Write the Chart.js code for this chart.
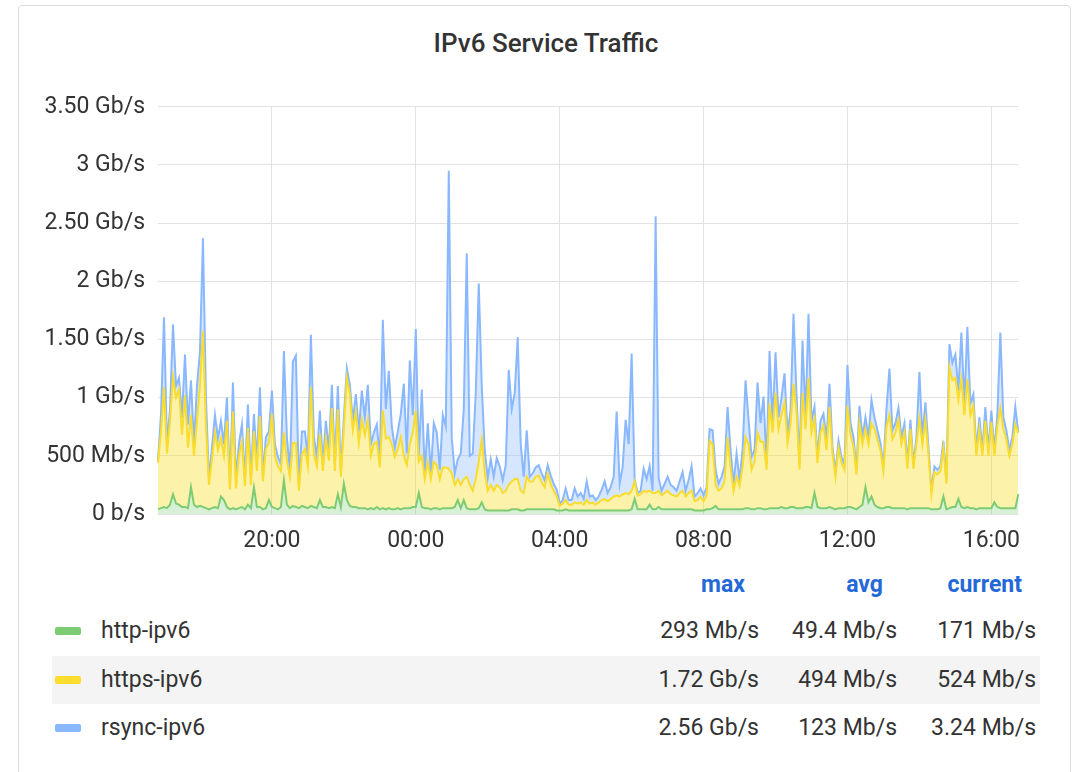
<!DOCTYPE html>
<html lang="en">
<head>
  <meta charset="UTF-8">
  <title>IPv6 Service Traffic</title>
  <script src="https://cdn.jsdelivr.net/npm/chart.js"></script>
  <style>
    body { margin: 0; background: #fff; font-family: Roboto, 'Noto Sans', sans-serif; color: #333; }
    .panel { position: absolute; left: 18px; top: 5px; width: 1053px; height: 800px; border: 1px solid #dcdcdc; border-radius: 4px; box-sizing: border-box; }
    .title { position: absolute; left: 0; width: 1092px; top: 28px; text-align: center; font-size: 26px; font-weight: 500; color: #333; }
    .chart-box { position: absolute; left: 18px; top: 80px; width: 1015px; height: 480px; }
    .cell { position: absolute; width: 200px; height: 48px; line-height: 48px; font-size: 23px; text-align: right; white-space: nowrap; }
    .head { color: #2468d8; font-weight: 700; }
    .row-bg { position: absolute; left: 52px; width: 988px; height: 48px; background: #f4f4f4; }
    .swatch { position: absolute; left: 55px; width: 26px; height: 8px; border-radius: 2px; }
    .name { position: absolute; left: 101px; height: 48px; line-height: 48px; font-size: 23px; }
  </style>
</head>
<body>
  <div class="panel"></div>
  <div class="title">IPv6 Service Traffic</div>
  <div class="chart-box"><canvas id="trafficChart"></canvas></div>
  <div id="legend"></div>

  <script>
    // values in Mb/s, one point every 5 minutes starting 16:50
    const startHour = 16, startMinute = 50, stepMinutes = 5;

    const httpValues = [
      40,50,60,50,80,170,90,80,60,60,50,230,80,60,70,60,50,40,50,60,50,150,120,60,40,50,40,50,60,40,80,50,230,60,60,40,50,120,60,50,40,
      60,290,80,50,70,60,50,70,60,50,70,60,50,120,60,60,50,60,50,170,60,260,120,70,60,60,50,50,50,40,50,40,60,40,50,40,50,40,40,50,40,
      50,50,50,60,60,180,60,50,50,40,50,50,40,50,50,50,50,60,120,50,120,50,40,40,40,50,100,40,30,30,30,30,30,30,30,30,40,40,40,30,30,
      40,40,40,40,40,40,40,40,40,40,30,30,30,40,30,30,30,30,30,30,30,30,30,30,30,30,30,30,30,30,30,30,30,30,30,40,130,40,40,40,40,
      80,40,40,60,40,40,40,40,40,40,40,40,40,40,40,30,30,30,30,40,40,50,70,40,40,40,40,40,40,40,40,40,50,50,40,40,50,50,40,40,50,
      50,50,50,60,50,50,60,60,50,50,50,60,60,50,180,60,50,50,50,60,50,40,50,50,50,60,60,50,40,60,80,230,100,150,80,60,50,50,60,60,50,
      50,50,50,50,40,50,50,50,50,50,50,50,40,40,40,50,150,40,50,60,60,130,60,50,60,50,50,40,50,50,50,50,50,100,60,50,50,50,50,50,50,171
    ];

    const httpsValues = [
      400,660,1030,470,720,1010,910,990,620,960,520,620,420,740,1030,1510,700,210,420,640,500,500,380,740,170,830,180,450,560,200,660,200,480,310,780,240,510,490,800,450,370,
      310,410,380,270,540,550,150,440,500,360,1020,450,360,570,310,590,410,850,320,730,260,470,1050,960,660,820,560,760,630,770,450,560,560,360,840,610,610,560,450,510,620,
      450,370,550,640,830,270,440,250,400,260,400,370,260,350,350,340,300,190,180,200,180,270,210,160,260,400,540,310,170,220,170,220,200,150,170,220,240,260,260,170,150,
      280,240,240,280,290,230,190,310,220,160,120,40,60,80,50,50,70,60,70,50,90,60,70,50,70,90,100,80,100,120,130,120,140,150,140,160,150,120,130,160,150,
      120,140,140,140,120,140,160,130,120,110,140,160,110,140,160,80,90,120,80,120,590,550,180,160,180,240,620,360,160,280,200,360,610,550,340,410,650,570,580,340,900,
      650,990,680,790,910,560,710,1060,830,330,990,670,1110,650,640,380,650,710,500,860,470,280,520,390,330,870,620,530,300,720,520,500,500,630,650,580,500,320,690,790,590,
      650,760,550,650,350,680,340,550,770,550,760,470,130,320,300,320,420,220,1210,1090,1110,850,1100,800,1100,800,880,460,680,450,750,450,740,400,700,860,680,590,450,550,720,524
    ];

    const rsyncValues = [
      20,150,600,80,100,450,100,100,150,350,200,300,100,300,300,800,250,50,100,150,100,150,100,200,40,250,80,100,150,60,200,60,150,80,250,60,100,100,200,100,80,
      60,700,200,50,700,750,40,200,150,80,450,150,80,200,60,150,80,200,60,200,50,100,80,80,80,150,100,250,150,300,100,100,150,60,780,250,570,150,80,150,200,
      620,100,720,150,700,50,570,50,330,50,330,280,80,450,350,2560,300,100,170,270,600,1920,250,320,740,1530,460,200,110,220,120,230,180,110,220,990,620,740,1220,400,140,
      400,40,70,80,90,80,60,70,70,60,60,20,30,100,40,40,120,60,80,50,160,60,60,40,50,90,150,70,100,170,720,110,230,630,430,1180,20,20,30,190,110,
      210,20,2380,110,40,80,120,80,70,50,100,160,50,110,210,40,60,70,50,70,100,120,130,60,100,130,260,150,60,200,50,150,490,210,110,100,430,160,390,50,450,
      80,350,100,150,250,80,120,600,150,50,450,100,550,100,100,50,100,100,80,200,60,40,60,50,50,350,100,80,40,150,60,100,60,200,100,80,60,40,150,400,80,
      80,100,60,80,40,80,40,60,400,60,150,60,30,50,40,40,60,30,200,150,200,80,400,100,450,100,100,50,100,50,120,50,100,50,100,650,100,80,50,60,150,3
    ];

    const xTickLabels = ['20:00', '00:00', '04:00', '08:00', '12:00', '16:00'];
    const yTickValues = [0, 500, 1000, 1500, 2000, 2500, 3000, 3500];
    const yTickLabels = ['0 b/s', '500 Mb/s', '1 Gb/s', '1.50 Gb/s', '2 Gb/s', '2.50 Gb/s', '3 Gb/s', '3.50 Gb/s'];

    const seriesNames = ['http-ipv6', 'https-ipv6', 'rsync-ipv6'];
    const maxLabels = ['293 Mb/s', '1.72 Gb/s', '2.56 Gb/s'];
    const avgLabels = ['49.4 Mb/s', '494 Mb/s', '123 Mb/s'];
    const currentLabels = ['171 Mb/s', '524 Mb/s', '3.24 Mb/s'];

    const lineColors = ['#7dcc73', '#f9dc2c', '#8ab8ff'];
    const fillColors = ['rgba(125,204,115,0.3)', 'rgba(250,222,42,0.4)', 'rgba(138,184,255,0.35)'];

    // time labels for the category axis
    const timeLabels = httpValues.map((_, i) => {
      const m = (startHour * 60 + startMinute + i * stepMinutes) % 1440;
      return String(Math.floor(m / 60)).padStart(2, '0') + ':' + String(m % 60).padStart(2, '0');
    });

    const font = { family: 'Roboto', size: 23 };

    new Chart(document.getElementById('trafficChart'), {
      type: 'line',
      data: {
        labels: timeLabels,
        datasets: [httpValues, httpsValues, rsyncValues].map((vals, k) => ({
          label: seriesNames[k],
          data: vals,
          borderColor: lineColors[k],
          backgroundColor: fillColors[k],
          borderWidth: 2,
          pointRadius: 0,
          tension: 0,
          fill: k === 0 ? 'origin' : '-1'
        }))
      },
      options: {
        responsive: true,
        maintainAspectRatio: false,
        animation: false,
        layout: { padding: { top: 25, right: 0, left: 0, bottom: 0 } },
        plugins: { legend: { display: false }, tooltip: { enabled: false } },
        scales: {
          x: {
            type: 'category',
            offset: false,
            grid: { color: '#e2e2e2', drawTicks: false },
            border: { display: false },
            afterBuildTicks: axis => {
              axis.ticks = axis.ticks.filter(t => xTickLabels.includes(timeLabels[t.value]));
            },
            afterFit: axis => { axis.height = 46; },
            ticks: {
              autoSkip: false, maxRotation: 0, padding: 13, color: '#333', font: font,
              callback: function (value) { return timeLabels[value]; }
            }
          },
          y: {
            stacked: true,
            min: 0,
            max: 3500,
            grid: { color: '#e2e2e2', drawTicks: false },
            border: { display: false },
            afterFit: axis => { axis.width = 140; },
            ticks: {
              stepSize: 500, padding: 13, color: '#333', font: font,
              callback: value => yTickLabels[yTickValues.indexOf(value)]
            }
          }
        }
      }
    });

    // legend table
    const legend = document.getElementById('legend');
    const headerY = 561, rowY = [607, 656, 704];
    const colRight = [759, 897, 1036];
    let html = '';
    ['max', 'avg', 'current'].forEach((h, c) => {
      html += `<div class="cell head" style="top:${headerY}px;left:${colRight[c] - 14 - 200}px">${h}</div>`;
    });
    html += `<div class="row-bg" style="top:${rowY[1]}px"></div>`;
    seriesNames.forEach((name, k) => {
      html += `<div class="swatch" style="top:${rowY[k] + 20}px;background:${lineColors[k]}"></div>`;
      html += `<div class="name" style="top:${rowY[k]}px">${name}</div>`;
      [maxLabels[k], avgLabels[k], currentLabels[k]].forEach((v, c) => {
        html += `<div class="cell" style="top:${rowY[k]}px;left:${colRight[c] - 200}px">${v}</div>`;
      });
    });
    legend.innerHTML = html;
  </script>
</body>
</html>
